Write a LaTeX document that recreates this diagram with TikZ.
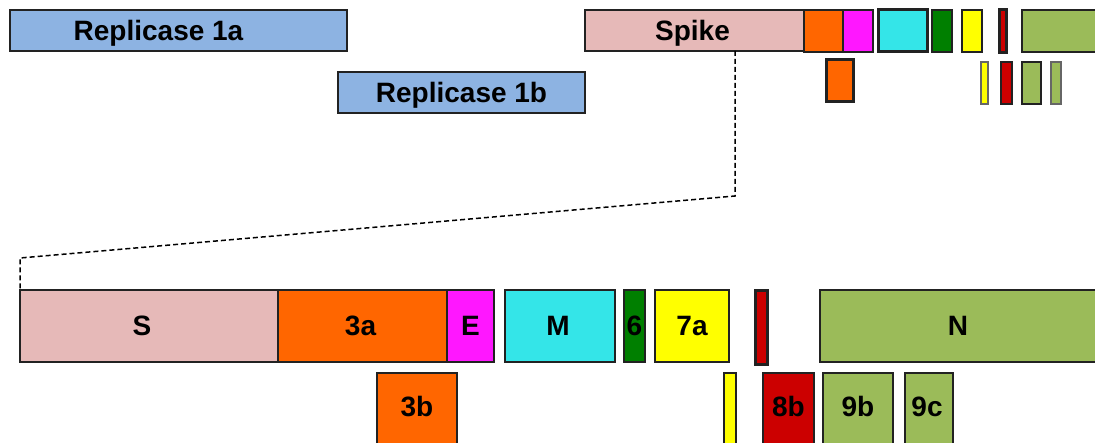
\documentclass[tikz,border=0pt]{standalone}
\usepackage{fontspec}
\setmainfont{Liberation Sans}
\definecolor{repl}{HTML}{8DB3E2}
\definecolor{spk}{HTML}{E6B9B8}
\definecolor{orf3}{HTML}{FF6600}
\definecolor{envp}{HTML}{FF17FF}
\definecolor{memb}{HTML}{34E5E8}
\definecolor{orf6}{HTML}{007F00}
\definecolor{orf7}{HTML}{FFFF00}
\definecolor{orf8}{HTML}{CC0000}
\definecolor{nucl}{HTML}{9BBB59}
\definecolor{edge}{HTML}{222222}
\tikzset{
  txt/.style={inner sep=0pt, font=\fontsize{28}{30}\selectfont\bfseries,
    text height=20pt, text depth=0pt},
  gene/.style={draw=edge, line width=1.5pt, inner sep=0pt, outer sep=0pt, txt},
  thick gene/.style={gene, line width=3pt},
  mid gene/.style={gene, line width=2pt},
  link/.style={draw=black, dashed, line width=1.5pt, dash pattern=on 5pt off 3pt}
}
\begin{document}
\begin{tikzpicture}[x=1pt, y=-1pt]
\useasboundingbox (0,0) rectangle (1095,443);
\clip (0,0) rectangle (1095,443);

% full genome, first row
\node[gene, fill=repl, minimum width=337, minimum height=41,
  label={[txt, xshift=-20pt]center:Replicase 1a}] (rep1a) at (178.5,30.5) {};
\node[gene, fill=repl, minimum width=247, minimum height=41] (rep1b) at (461.5,92.5) {Replicase 1b};
\node[gene, fill=spk, minimum width=219, minimum height=41,
  label={[txt, xshift=-2pt]center:Spike}] (spike) at (694.5,30.5) {};
\node[mid gene, fill=orf3, minimum width=39, minimum height=42] (t3a) at (823.5,31) {};
\node[mid gene, fill=envp, minimum width=30, minimum height=42] (tE) at (858,31) {};
\node[thick gene, fill=memb, minimum width=49, minimum height=42] (tM) at (902.5,31) {};
\node[mid gene, fill=orf6, minimum width=20, minimum height=42] (t6) at (942,31) {};
\node[mid gene, fill=orf7, minimum width=20, minimum height=42] (t7a) at (972,31) {};
\node[thick gene, fill=orf8, minimum width=7, minimum height=43] (t8a) at (1002.5,31.5) {};
\node[mid gene, fill=nucl, minimum width=88, minimum height=42] (tN) at (1066,31) {};

% full genome, second row
\node[thick gene, fill=orf3, minimum width=27, minimum height=42] (t3b) at (839.5,81) {};
\node[mid gene, draw=black!60, fill=orf7, minimum width=7, minimum height=42] (t7b) at (984.5,83) {};
\node[mid gene, fill=orf8, minimum width=11, minimum height=42] (t8b) at (1006.5,83) {};
\node[mid gene, fill=nucl, minimum width=19, minimum height=42] (t9b) at (1031.5,83) {};
\node[mid gene, draw=black!60, fill=nucl, minimum width=10, minimum height=42] (t9c) at (1056,83) {};

% enlarged 3' region, first row
\node[gene, fill=spk, minimum width=258, minimum height=72,
  label={[txt, xshift=-7pt]center:S}] (S) at (149,326) {};
\node[gene, fill=orf3, minimum width=169, minimum height=72,
  label={[txt, xshift=-2pt]center:3a}] (a3) at (362.5,326) {};
\node[gene, fill=envp, minimum width=47, minimum height=72] (E) at (470.5,326) {E};
\node[gene, fill=memb, minimum width=110, minimum height=72,
  label={[txt, xshift=-2pt]center:M}] (M) at (560,326) {};
\node[gene, fill=orf6, minimum width=21, minimum height=72] (o6) at (634.5,326) {6};
\node[gene, fill=orf7, minimum width=74, minimum height=72] (a7) at (692,326) {7a};
\node[thick gene, fill=orf8, minimum width=12, minimum height=74] (a8) at (761,328) {};
\node[gene, fill=nucl, minimum width=290, minimum height=72,
  label={[txt, xshift=-7pt]center:N}] (N) at (965,326) {};

% enlarged 3' region, second row
\node[gene, fill=orf3, minimum width=80, minimum height=72,
  label={[txt, yshift=2pt]center:3b}] (b3) at (417,409) {};
\node[gene, fill=orf7, minimum width=12, minimum height=72] (b7) at (730,409) {};
\node[gene, fill=orf8, minimum width=51, minimum height=72,
  label={[txt, yshift=2pt]center:8b}] (b8) at (788.5,409) {};
\node[gene, fill=nucl, minimum width=70, minimum height=72,
  label={[txt, yshift=2pt]center:9b}] (b9) at (858,409) {};
\node[gene, fill=nucl, minimum width=48, minimum height=72,
  label={[txt, yshift=2pt, xshift=-2pt]center:9c}] (c9) at (929,409) {};

% zoom guide from Spike to the enlarged region
\coordinate (k1) at (735,196);
\coordinate (k2) at (20,258);
\draw[link] (spike.south -| k1) -- (k1) -- (k2) -- (S.north west);
\end{tikzpicture}
\end{document}
